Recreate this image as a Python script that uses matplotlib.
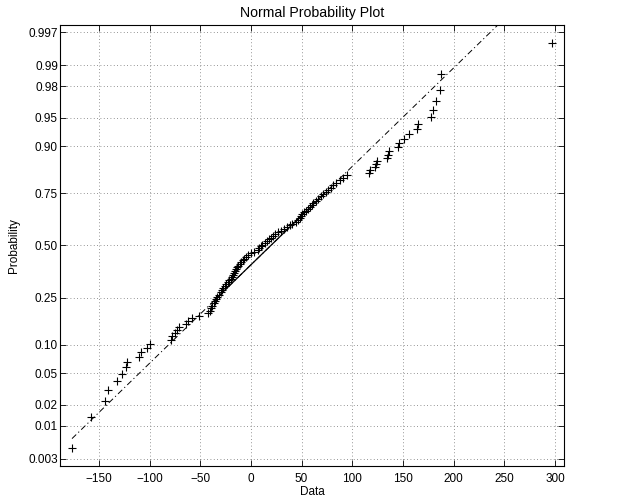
from statistics import NormalDist
import numpy as np
import matplotlib
matplotlib.use("Agg")
import matplotlib.pyplot as plt

# sorted sample values (112 points)
lower_tail = [-176.5, -158, -144, -140.6, -132.4, -127.4, -123, -122, -110, -108.5,
              -103, -99.5, -78.8, -77.4, -75.3, -72.9, -71.2]
middle = [
    -64, -62.5, -58, -51, -42, -40.7, -39.5, -38, -36.5, -35,
    -34, -33, -31, -30, -28.5, -27.3, -26, -24.7, -23, -21.5,
    -20, -18.8, -17.6, -16.5, -15.4, -14.3, -13.3, -12.3, -11.2, -9.8,
    -8.2, -6.5, -4.8, -2.5, 0.5, 3.5, 6.5, 8.2, 9.6, 11,
    13.5, 15.5, 17.8, 19.5, 21.5, 24, 26.8, 29.5, 33, 36,
    38.5, 41, 44, 46.5, 48, 49, 50.5, 52.5, 54.5, 56.5,
    58.5, 60, 61.5, 64, 66.5, 69, 71.5, 74, 76.5, 78.5,
    81, 84, 88.2, 91, 94.5,
]
upper_tail = [116, 117, 122, 123, 124.5, 134, 135, 136.5, 145, 145.6,
              151, 156, 164, 164.5, 177.8, 179.2, 182.5, 186.5, 187.4, 297]

prob_ticks = [0.003, 0.01, 0.02, 0.05, 0.10, 0.25, 0.50, 0.75, 0.90, 0.95, 0.98, 0.99, 0.997]
prob_labels = ['0.003', '0.01', '0.02', '0.05', '0.10', '0.25', '0.50', '0.75',
               '0.90', '0.95', '0.98', '0.99', '0.997']
x_ticks = [-150, -100, -50, 0, 50, 100, 150, 200, 250, 300]

nd = NormalDist()
_ppf = np.vectorize(lambda p: nd.inv_cdf(min(max(p, 1e-12), 1 - 1e-12)), otypes=[float])
_cdf = np.vectorize(nd.cdf, otypes=[float])


def forward(p):
    return _ppf(np.asarray(p, dtype=float))


def inverse(z):
    return _cdf(np.asarray(z, dtype=float))


plt.rcParams['font.family'] = ['Liberation Sans', 'DejaVu Sans']
plt.rcParams['font.size'] = 8.5

x = np.sort(np.array(lower_tail + middle + upper_tail, dtype=float))
n = len(x)
p = (np.arange(1, n + 1) - 0.5) / n

# reference line through the quartiles (like matlab normplot)
q1, q3 = np.percentile(x, [25, 75], method='hazen')
z1, z3 = nd.inv_cdf(0.25), nd.inv_cdf(0.75)
slope = (z3 - z1) / (q3 - q1)
xe = np.array([x.min(), x.max()])
pe = inverse(z1 + (xe - q1) * slope)
xq = np.array([q1, q3])

fig = plt.figure(figsize=(6.26, 4.99), dpi=100)
ax = fig.add_axes([60 / 626, 1 - 466 / 499, (564 - 60) / 626, (466 - 25) / 499])
ax.set_yscale('function', functions=(forward, inverse))

ax.plot(xe, pe, color='k', lw=0.7, linestyle=(0, (6, 3, 1.2, 3)))
ax.plot(xq, [0.25, 0.75], color='k', lw=0.9)
ax.plot(x, p, '+', color='k', ms=5.5, mew=0.8)

rng = x.max() - x.min()
ax.set_xlim(x.min() - 0.025 * rng, x.max() + 0.025 * rng)
ax.set_ylim(0.25 / n, 1 - 0.25 / n)

ax.set_xticks(x_ticks)
ax.set_xticklabels(['\u2212' + str(-t) if t < 0 else str(t) for t in x_ticks])
ax.set_yticks(prob_ticks)
ax.set_yticklabels(prob_labels)
ax.minorticks_off()

ax.grid(True, color='0.45', linestyle=(0, (1, 3)), lw=0.6)
ax.tick_params(direction='in', top=True, right=True, length=4, width=0.6)
ax.tick_params(axis='x', pad=5)
ax.tick_params(axis='y', pad=1.5)
for s in ax.spines.values():
    s.set_linewidth(0.8)

ax.set_title('Normal Probability Plot', pad=5.5)
ax.set_xlabel('Data', labelpad=0.5)
ax.set_ylabel('Probability', labelpad=6)

fig.savefig('out.png', dpi=100)
